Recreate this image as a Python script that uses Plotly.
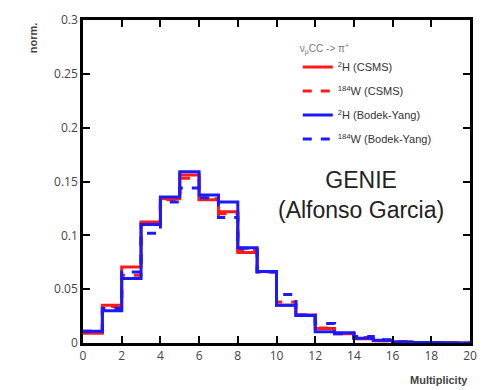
import plotly.graph_objects as go

edges = list(range(0, 21))
h2_csms = [0.009, 0.035, 0.0705, 0.1125, 0.134, 0.156, 0.133, 0.122, 0.084, 0.0665,
           0.035, 0.026, 0.0135, 0.0085, 0.004, 0.002, 0.001, 0.0005, 0.0002, 0.0001]
w_csms = [0.010, 0.034, 0.063, 0.111, 0.133, 0.153, 0.134, 0.120, 0.086, 0.066,
          0.038, 0.026, 0.014, 0.009, 0.005, 0.002, 0.001, 0.0005, 0.0002, 0.0001]
h2_by = [0.011, 0.030, 0.060, 0.110, 0.1355, 0.159, 0.1375, 0.131, 0.0885, 0.0665,
         0.035, 0.0255, 0.0105, 0.0095, 0.0045, 0.0025, 0.001, 0.0005, 0.0002, 0.0001]
w_by = [0.011, 0.032, 0.066, 0.102, 0.131, 0.144, 0.135, 0.1165, 0.088, 0.066,
        0.045, 0.026, 0.018, 0.0085, 0.006, 0.003, 0.0012, 0.0005, 0.0002, 0.0001]

series = [
    ("<sup>2</sup>H (CSMS)", h2_csms, "#ff1a1a", "solid"),
    ("<sup>184</sup>W (CSMS)", w_csms, "#ff1a1a", "dash"),
    ("<sup>2</sup>H (Bodek-Yang)", h2_by, "#1a1aff", "solid"),
    ("<sup>184</sup>W (Bodek-Yang)", w_by, "#1a1aff", "dash"),
]

fig = go.Figure()
for i, (name, vals, col, dash) in enumerate(series):
    fig.add_trace(go.Scatter(
        x=edges, y=vals + [vals[-1]], mode="lines", line_shape="hv",
        line=dict(color=col, width=3, dash=dash), name=name,
        legendgroup=str(i),
    ))

fig.update_layout(
    width=488, height=390,
    margin=dict(l=83, r=11, t=11, b=47),
    plot_bgcolor="white",
    showlegend=True,
    legend=dict(
        x=0.555, y=0.94, xanchor="left", yanchor="top",
        bgcolor="rgba(0,0,0,0)",
        font=dict(family="Liberation Sans", size=11, color="#333333"),
        title=dict(text="ν<sub>μ</sub>CC -> π<sup>+</sup>",
                   font=dict(family="Liberation Sans", size=10, color="#777777")),
        tracegroupgap=5,
    ),
)
fig.update_xaxes(range=[0, 20], dtick=2, ticks="inside", ticklen=7, tickwidth=2,
                 tickcolor="black", mirror="allticks", showline=True, linecolor="black", linewidth=2.5,
                 tickfont=dict(size=12, color="#444444"))
fig.update_yaxes(range=[0, 0.3], dtick=0.05, ticks="inside", ticklen=7, tickwidth=2,
                 tickcolor="black", mirror="allticks", showline=True, linecolor="black", linewidth=2.5,
                 tickfont=dict(size=12, color="#444444"))

fig.add_annotation(text="<b>norm.</b>", xref="paper", yref="paper", x=-0.13, y=1.0,
                   xanchor="center", yanchor="top", textangle=-90, showarrow=False,
                   font=dict(family="Liberation Sans", size=11, color="#444444"))
fig.add_annotation(text="<b>Multiplicity</b>", xref="paper", yref="paper", x=1.0, y=-0.09,
                   xanchor="right", yanchor="top", showarrow=False,
                   font=dict(family="Liberation Sans", size=11, color="#444444"))
fig.add_annotation(text="GENIE<br>(Alfonso Garcia)", xref="paper", yref="paper", x=0.718, y=0.458,
                   xanchor="center", yanchor="middle", showarrow=False,
                   font=dict(family="Liberation Sans", size=23, color="#222222"))

fig.write_html("out.html")
